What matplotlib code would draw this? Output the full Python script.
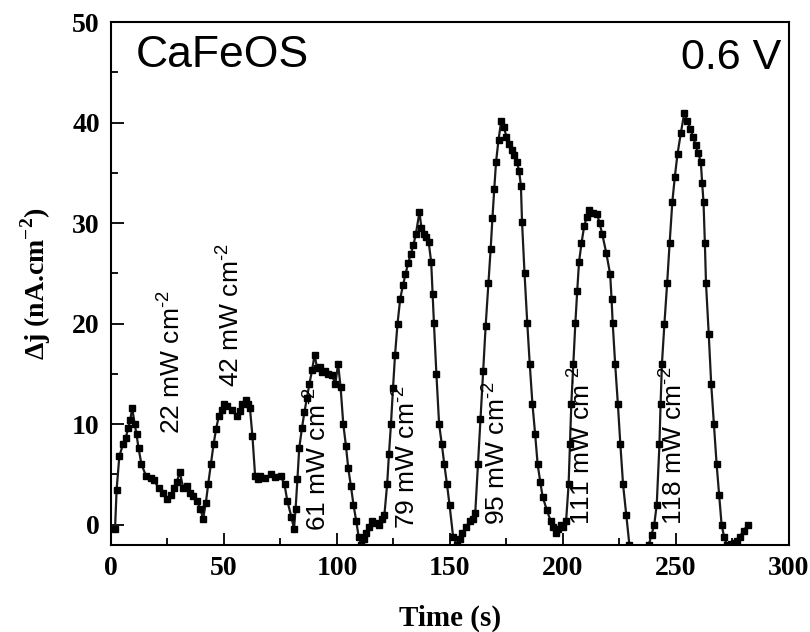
import matplotlib.pyplot as plt
from matplotlib.ticker import MultipleLocator

plt.rcParams['mathtext.fontset'] = 'custom'
plt.rcParams['mathtext.rm'] = 'Liberation Sans'
plt.rcParams['mathtext.bf'] = 'Liberation Serif:bold'

# photocurrent trace
time = [1.8, 2.5, 3.7, 5.3, 6.5, 7.6, 8.5, 9.4, 10.5, 11.3, 12.2, 13.5, 15.6, 17.5, 19.0, 21.3, 23.0, 24.8,
        26.5, 27.8, 29.0, 30.5, 32.0, 33.5, 35.0, 36.5, 38.0, 39.5, 40.8,
        42.0, 43.0, 44.2, 45.4, 46.5, 47.7, 49.0, 50.0, 51.5, 53.4, 55.7, 57.0, 58.0, 59.6, 60.5, 61.5,
        62.6, 63.8, 65.0, 66.0, 68.0, 70.6, 72.5, 75.2, 76.8, 78.0, 79.8, 81.0,
        81.7, 82.5, 83.3, 84.5, 85.6, 86.7, 87.8, 89.0, 90.1, 91.2, 92.4, 93.5, 94.7, 96.0, 97.7, 99.3,
        100.5, 101.6, 102.8, 104.0, 105.0, 106.2, 107.3, 108.5, 109.6, 110.8, 112.0, 113.0, 114.2, 115.4,
        117.0, 118.8, 120.0, 121.0,
        122.2, 123.0, 123.9, 124.8, 125.7, 126.8, 128.0, 129.2, 130.3, 131.5, 132.6, 133.8, 134.9, 136.5,
        137.4, 138.3, 139.5, 140.6, 141.7, 142.3, 142.9, 144.0, 145.2, 146.4, 147.5, 148.7, 149.8, 151.4,
        153.2, 154.3, 155.5, 157.2, 159.0, 160.2, 161.2,
        162.4, 163.5, 164.7, 165.8, 167.0, 168.0, 168.8, 169.6, 170.4, 171.5, 172.7, 173.8, 175.0, 176.2,
        177.3, 178.5, 179.6, 180.6, 181.4, 181.9, 183.0, 184.2, 185.3, 186.5, 187.7, 188.8, 190.0, 191.0,
        192.8, 194.5, 195.7, 196.8, 198.0, 199.0, 200.2, 201.4,
        202.5, 203.1, 203.7, 204.6, 205.5, 206.3, 207.1, 208.2, 209.4, 210.5, 211.7, 213.4, 215.1, 216.2,
        217.4, 219.2, 220.9, 221.5, 222.0, 223.1, 224.3, 225.4, 226.6, 228.0, 229.4, 233.5, 238.0,
        239.2, 240.4, 241.5,
        242.7, 243.2, 243.8, 244.9, 246.1, 247.2, 248.4, 249.5, 250.7, 252.2, 253.7, 255.0, 256.4, 257.5,
        258.7, 259.8, 261.0, 261.6, 262.2, 262.8, 263.3, 264.5, 265.6, 266.8, 268.0, 269.1, 270.2, 271.3,
        272.5, 274.2, 276.0, 277.0, 278.2, 280.0, 281.7]
dj = [-0.4, 3.5, 6.8, 8.0, 8.6, 9.6, 10.4, 11.6, 10.0, 9.0, 7.6, 6.0, 4.8, 4.6, 4.4, 3.6, 3.2, 2.6,
      3.0, 3.6, 4.2, 5.2, 3.6, 3.8, 3.2, 2.9, 2.4, 1.6, 0.6,
      2.2, 4.0, 6.0, 8.0, 9.5, 10.8, 11.4, 12.0, 11.8, 11.4, 10.8, 11.3, 12.0, 12.4, 12.0, 11.6,
      8.8, 4.8, 4.5, 4.8, 4.6, 5.0, 4.7, 4.8, 4.0, 2.4, 0.8, -0.4,
      1.6, 4.5, 7.6, 9.6, 11.2, 12.6, 14.0, 15.4, 16.9, 15.6, 15.7, 15.2, 15.3, 15.0, 14.9, 14.0,
      16.0, 13.7, 10.0, 7.8, 5.6, 3.8, 2.0, 0.4, -1.2, -2.0, -1.4, -0.8, -0.2, 0.4,
      0.2, 0.0, 0.6, 1.0,
      4.0, 7.0, 10.0, 13.6, 16.9, 20.0, 22.5, 23.8, 24.9, 26.0, 26.9, 27.8, 28.9, 31.1,
      29.5, 28.9, 28.6, 28.1, 26.1, 23.0, 20.1, 15.0, 10.0, 8.0, 6.0, 4.0, 2.0, -1.2,
      -2.0, -1.4, -0.8, -0.2, 0.4, 0.6, 1.2,
      6.0, 10.5, 15.3, 19.8, 24.0, 27.4, 30.5, 33.4, 36.1, 38.3, 40.2, 39.6, 38.6, 37.9,
      37.3, 36.8, 36.1, 35.2, 33.7, 30.1, 25.0, 20.1, 16.0, 12.0, 9.0, 6.0, 4.2, 2.8,
      1.5, 0.4, -0.2, -0.8, -0.4, 0.0, -0.2, 0.4,
      4.0, 8.0, 12.0, 16.0, 20.1, 23.2, 26.1, 28.0, 29.7, 30.6, 31.3, 31.0, 30.9, 30.0,
      28.9, 27.0, 24.9, 22.5, 20.1, 16.0, 12.0, 8.0, 4.0, 1.0, -2.0, -5.0, -2.0,
      -1.0, 0.0, 2.0,
      8.0, 12.0, 16.0, 20.0, 24.0, 28.0, 32.1, 34.6, 36.9, 39.0, 41.0, 40.2, 39.4, 38.6,
      37.8, 37.0, 36.1, 34.0, 32.1, 28.0, 24.0, 19.0, 14.0, 10.0, 6.0, 3.0, 0.0, -1.2,
      -2.0, -1.9, -1.8, -1.6, -1.2, -0.6, 0.0]

labels = ['22 mW cm$^{\\text{-2}}$', '42 mW cm$^{\\text{-2}}$', '61 mW cm$^{\\text{-2}}$',
          '79 mW cm$^{\\text{-2}}$', '95 mW cm$^{\\text{-2}}$', '111 mW cm$^{\\text{-2}}$',
          '118 mW cm$^{\\text{-2}}$']
label_x = [26.5, 52.7, 90.8, 130.3, 170.4, 208, 248.4]
label_y = [9.0, 13.7, -0.6, -0.4, 0.0, 0.0, 0.0]

fig = plt.figure(figsize=(8.1, 6.32), dpi=100)
ax = fig.add_axes([0.137, 0.138, 0.837, 0.827])

ax.plot(time, dj, color='0.1', lw=1.6, marker='s', markersize=3.9,
        markerfacecolor='black', markeredgecolor='black')

for lab, lx, ly in zip(labels, label_x, label_y):
    ax.text(lx, ly, lab, rotation=90, ha='center', va='bottom',
            fontsize=19, family='Liberation Sans')

ax.text(0.037, 0.975, 'CaFeOS', transform=ax.transAxes, ha='left', va='top',
        fontsize=32, family='Liberation Sans')
ax.text(0.988, 0.97, '0.6 V', transform=ax.transAxes, ha='right', va='top',
        fontsize=31, family='Liberation Sans')

ax.set_xlim(0, 300)
ax.set_ylim(-2, 50)
ax.xaxis.set_major_locator(MultipleLocator(50))
ax.xaxis.set_minor_locator(MultipleLocator(25))
ax.yaxis.set_major_locator(MultipleLocator(10))
ax.yaxis.set_minor_locator(MultipleLocator(5))
ax.tick_params(which='both', direction='in', top=False, right=False, width=1.3)
ax.tick_params(which='major', length=9, pad=8)
ax.tick_params(which='minor', length=5)
for lab in ax.get_xticklabels() + ax.get_yticklabels():
    lab.set_family('Liberation Serif')
    lab.set_fontweight('bold')
    lab.set_fontsize(20)
for sp in ax.spines.values():
    sp.set_linewidth(1.5)

ax.set_xlabel('Time (s)', family='Liberation Serif', fontweight='bold', fontsize=21, labelpad=17)
ax.set_ylabel('Δj (nA.cm$^{\\mathbf{-2}}$)', family='Liberation Serif',
              fontweight='bold', fontsize=20, labelpad=14)

fig.savefig('out.png', dpi=100)
